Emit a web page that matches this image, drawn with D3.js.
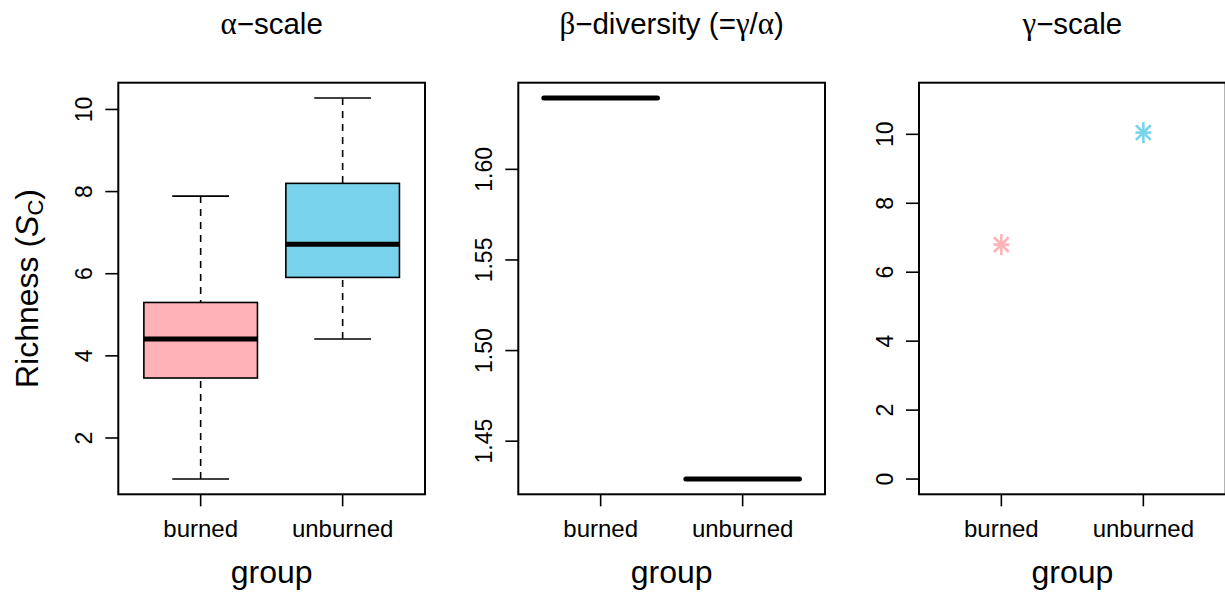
<!DOCTYPE html>
<html>
<head>
<meta charset="utf-8">
<script src="https://cdn.jsdelivr.net/npm/d3@7"></script>
<style>
  html, body { margin: 0; padding: 0; background: #fff; }
  svg { display: block; font-family: "Liberation Sans", Arial, Helvetica, sans-serif; }
</style>
</head>
<body>
<svg id="chart" width="1225" height="597"></svg>
<script>
// ---------- data ----------
const groups = ["burned", "unburned"];
const groupColors = ["#FFB2B7", "#79D3EC"];
// alpha-scale box statistics: [lower whisker, Q1, median, Q3, upper whisker]
const alphaBurned   = [1.0, 3.46, 4.41, 5.30, 7.89];
const alphaUnburned = [4.41, 5.91, 6.72, 8.20, 10.28];
// beta diversity (single value per group)
const betaValues  = [1.6394, 1.4291];
// gamma richness (single value per group)
const gammaValues = [6.8, 10.05];
// tick labels
const alphaTicks = [2, 4, 6, 8, 10];
const betaTicks  = [1.45, 1.50, 1.55, 1.60];
const gammaTicks = [0, 2, 4, 6, 8, 10];
// titles as [text, isGreek] pieces
const titles = [
  [["\u03B1", true], ["\u2212scale", false]],
  [["\u03B2", true], ["\u2212diversity (=", false], ["\u03B3", true], ["/", false], ["\u03B1", true], [")", false]],
  [["\u03B3", true], ["\u2212scale", false]]
];

// ---------- layout ----------
const svg = d3.select("#chart");
const panelLefts = [118.3, 518.3, 919];
const plotW = 306.7, plotTop = 82.7, plotBottom = 494.3;

function rExtend(lo, hi) { const r = hi - lo; return [lo - 0.04 * r, hi + 0.04 * r]; }

function makeX(left) {
  return d3.scaleLinear().domain([0.42, 2.58]).range([left, left + plotW]);
}

function drawFrame(g, left, x, y, ticks, fmt, title) {
  // title
  const t = g.append("text").attr("x", left + plotW / 2).attr("y", 34)
    .attr("text-anchor", "middle").attr("font-size", 29.5);
  title.forEach(([s, greek]) => {
    const sp = t.append("tspan").text(s);
    if (greek) sp.attr("font-family", "'Liberation Serif', 'Times New Roman', serif").attr("font-size", 31);
  });
  // box frame
  g.append("rect").attr("x", left).attr("y", plotTop)
    .attr("width", plotW).attr("height", plotBottom - plotTop)
    .attr("fill", "none").attr("stroke", "#000").attr("stroke-width", 2);
  // y axis ticks
  ticks.forEach(tv => {
    g.append("line").attr("x1", left - 13).attr("x2", left)
      .attr("y1", y(tv)).attr("y2", y(tv)).attr("stroke", "#000").attr("stroke-width", 1.6);
    g.append("text")
      .attr("transform", `translate(${left - 26},${y(tv)}) rotate(-90)`)
      .attr("text-anchor", "middle").attr("font-size", 23).text(fmt(tv));
  });
  // x ticks
  groups.forEach((grp, i) => {
    const cx = x(i + 1);
    g.append("line").attr("x1", cx).attr("x2", cx)
      .attr("y1", plotBottom).attr("y2", plotBottom + 12)
      .attr("stroke", "#000").attr("stroke-width", 1.6);
    g.append("text").attr("x", cx).attr("y", 536.5)
      .attr("text-anchor", "middle").attr("font-size", 24).text(grp);
  });
  // x label
  g.append("text").attr("x", left + plotW / 2).attr("y", 583)
    .attr("text-anchor", "middle").attr("font-size", 32).text("group");
}

function drawBox(g, cx, halfW, s, y, color) {
  const [lo, q1, med, q3, hi] = s;
  // whiskers (dashed)
  g.append("line").attr("x1", cx).attr("x2", cx).attr("y1", y(hi)).attr("y2", y(q3))
    .attr("stroke", "#000").attr("stroke-width", 1.6).attr("stroke-dasharray", "7,6");
  g.append("line").attr("x1", cx).attr("x2", cx).attr("y1", y(lo)).attr("y2", y(q1))
    .attr("stroke", "#000").attr("stroke-width", 1.6).attr("stroke-dasharray", "7,6");
  // staples
  [lo, hi].forEach(v => {
    g.append("line").attr("x1", cx - halfW / 2).attr("x2", cx + halfW / 2)
      .attr("y1", y(v)).attr("y2", y(v)).attr("stroke", "#000").attr("stroke-width", 1.6);
  });
  // box
  g.append("rect").attr("x", cx - halfW).attr("y", y(q3))
    .attr("width", 2 * halfW).attr("height", y(q1) - y(q3))
    .attr("fill", color).attr("stroke", "#000").attr("stroke-width", 1.6);
  // median
  g.append("line").attr("x1", cx - halfW).attr("x2", cx + halfW)
    .attr("y1", y(med)).attr("y2", y(med)).attr("stroke", "#000").attr("stroke-width", 5);
}

// ---------- panel 1: alpha ----------
{
  const left = panelLefts[0];
  const g = svg.append("g");
  const x = makeX(left);
  const all = alphaBurned.concat(alphaUnburned);
  const y = d3.scaleLinear().domain(rExtend(d3.min(all), d3.max(all))).range([plotBottom, plotTop]);
  const halfW = (x(1.4) - x(0.6)) / 2;
  [alphaBurned, alphaUnburned].forEach((s, i) => drawBox(g, x(i + 1), halfW, s, y, groupColors[i]));
  drawFrame(g, left, x, y, alphaTicks, d3.format("d"), titles[0]);
  // y axis title
  const lab = g.append("text")
    .attr("transform", `translate(38,${(plotTop + plotBottom) / 2}) rotate(-90)`)
    .attr("text-anchor", "middle").attr("font-size", 32);
  lab.append("tspan").text("Richness (");
  lab.append("tspan").attr("font-style", "italic").text("S");
  lab.append("tspan").attr("font-size", 22).attr("dy", 5).text("C");
  lab.append("tspan").attr("dy", -5).text(")");
}

// ---------- panel 2: beta ----------
{
  const left = panelLefts[1];
  const g = svg.append("g");
  const x = makeX(left);
  const y = d3.scaleLinear().domain(rExtend(d3.min(betaValues), d3.max(betaValues))).range([plotBottom, plotTop]);
  const halfW = (x(1.4) - x(0.6)) / 2;
  betaValues.forEach((v, i) => {
    g.append("line").attr("x1", x(i + 1) - halfW).attr("x2", x(i + 1) + halfW)
      .attr("y1", y(v)).attr("y2", y(v))
      .attr("stroke", "#000").attr("stroke-width", 5).attr("stroke-linecap", "round");
  });
  drawFrame(g, left, x, y, betaTicks, d3.format(".2f"), titles[1]);
}

// ---------- panel 3: gamma ----------
{
  const left = panelLefts[2];
  const g = svg.append("g");
  const x = makeX(left);
  const y = d3.scaleLinear().domain(rExtend(0, d3.max(gammaValues) * 1.1)).range([plotBottom, plotTop]);
  const r = 10.5;
  gammaValues.forEach((v, i) => {
    const cx = x(i + 1), cy = y(v);
    const star = g.append("g").attr("transform", `translate(${cx},${cy})`)
      .attr("stroke", groupColors[i]).attr("stroke-width", 2.6);
    star.append("line").attr("x1", 0).attr("x2", 0).attr("y1", -r).attr("y2", r);
    star.append("line").attr("x1", -r * 0.75).attr("x2", r * 0.75).attr("y1", 0).attr("y2", 0);
    const d = r * 0.7;
    star.append("line").attr("x1", -d).attr("x2", d).attr("y1", -d).attr("y2", d);
    star.append("line").attr("x1", -d).attr("x2", d).attr("y1", d).attr("y2", -d);
  });
  drawFrame(g, left, x, y, gammaTicks, d3.format("d"), titles[2]);
}
</script>
</body>
</html>
